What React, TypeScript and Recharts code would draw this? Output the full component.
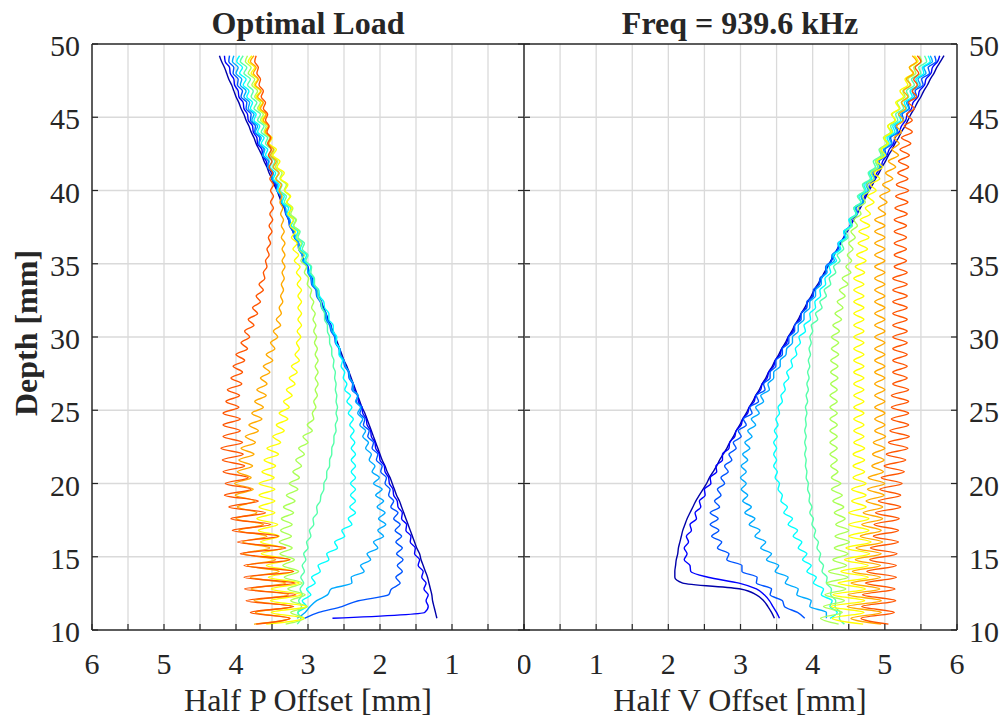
import React from 'react';
import { ScatterChart, Scatter, XAxis, YAxis, CartesianGrid } from 'recharts';

// depth samples shared by every curve [mm]
const DEPTH = [
  10.4, 10.8, 11.2, 11.6, 12.0, 12.4, 12.8, 13.2, 13.6, 14.0,
  14.4, 14.8, 15.2, 15.6, 16.0, 16.4, 16.8, 17.2, 17.6, 18.0,
  18.4, 18.8, 19.2, 19.6, 20.0, 20.4, 20.8, 21.2, 21.6, 22.0,
  22.4, 22.8, 23.2, 23.6, 24.0, 24.4, 24.8, 25.2, 25.6, 26.0,
  26.4, 26.8, 27.2, 27.6, 28.0, 28.4, 28.8, 29.2, 29.6, 30.0,
  30.4, 30.8, 31.2, 31.6, 32.0, 32.4, 32.8, 33.2, 33.6, 34.0,
  34.4, 34.8, 35.2, 35.6, 36.0, 36.4, 36.8, 37.2, 37.6, 38.0,
  38.4, 38.8, 39.2, 39.6, 40.0, 40.4, 40.8, 41.2, 41.6, 42.0,
  42.4, 42.8, 43.2, 43.6, 44.0, 44.4, 44.8, 45.2, 45.6, 46.0,
  46.4, 46.8, 47.2, 47.6, 48.0, 48.4, 48.8, 49.2,
];

// Half P offset, one array per load (blue -> red)
const P0 = [
  null, 1.21, 1.23, 1.25, 1.27, 1.28, 1.30, 1.32, 1.34, 1.37,
  1.40, 1.43, 1.45, 1.49, 1.52, 1.55, 1.58, 1.61, 1.64, 1.67,
  1.70, 1.73, 1.77, 1.80, 1.83, 1.86, 1.90, 1.93, 1.97, 2.00,
  2.03, 2.06, 2.09, 2.12, 2.15, 2.18, 2.21, 2.25, 2.28, 2.31,
  2.34, 2.37, 2.40, 2.43, 2.46, 2.50, 2.53, 2.56, 2.59, 2.62,
  2.65, 2.69, 2.72, 2.75, 2.78, 2.82, 2.85, 2.88, 2.92, 2.95,
  2.98, 3.01, 3.05, 3.08, 3.11, 3.14, 3.17, 3.21, 3.24, 3.27,
  3.30, 3.33, 3.37, 3.40, 3.43, 3.47, 3.50, 3.54, 3.57, 3.61,
  3.64, 3.68, 3.72, 3.75, 3.79, 3.82, 3.86, 3.89, 3.93, 3.96,
  4.00, 4.03, 4.06, 4.10, 4.13, 4.16, 4.20, 4.23,
];
const P1 = [
  null, 2.66, 1.38, 1.33, 1.36, 1.33, 1.39, 1.36, 1.42, 1.40,
  1.47, 1.45, 1.52, 1.51, 1.58, 1.57, 1.64, 1.63, 1.70, 1.69,
  1.75, 1.76, 1.81, 1.82, 1.87, 1.88, 1.93, 1.94, 2.00, 2.01,
  2.06, 2.07, 2.12, 2.13, 2.18, 2.19, 2.24, 2.25, 2.30, 2.31,
  2.36, 2.37, 2.42, 2.43, 2.48, 2.50, 2.55, 2.56, 2.61, 2.62,
  2.67, 2.68, 2.73, 2.75, 2.80, 2.81, 2.86, 2.88, 2.93, 2.94,
  2.99, 3.00, 3.06, 3.07, 3.12, 3.13, 3.18, 3.20, 3.25, 3.26,
  3.31, 3.32, 3.37, 3.38, 3.43, 3.45, 3.50, 3.51, 3.56, 3.58,
  3.63, 3.64, 3.70, 3.71, 3.76, 3.77, 3.83, 3.84, 3.89, 3.90,
  3.96, 3.97, 4.02, 4.03, 4.08, 4.09, 4.15, 4.16,
];
const P2 = [
  null, 3.05, 2.85, 2.53, 2.30, 1.88, 1.84, 1.72, 1.78, 1.69,
  1.76, 1.68, 1.77, 1.69, 1.78, 1.70, 1.79, 1.72, 1.81, 1.75,
  1.85, 1.81, 1.88, 1.86, 1.93, 1.91, 1.99, 1.97, 2.05, 2.03,
  2.11, 2.09, 2.17, 2.15, 2.23, 2.21, 2.28, 2.25, 2.33, 2.31,
  2.39, 2.38, 2.43, 2.44, 2.49, 2.51, 2.56, 2.57, 2.62, 2.63,
  2.68, 2.70, 2.75, 2.76, 2.81, 2.83, 2.88, 2.89, 2.95, 2.96,
  3.00, 3.01, 3.07, 3.08, 3.13, 3.14, 3.19, 3.21, 3.26, 3.27,
  3.31, 3.32, 3.37, 3.38, 3.43, 3.44, 3.50, 3.49, 3.56, 3.55,
  3.62, 3.61, 3.68, 3.67, 3.74, 3.73, 3.80, 3.79, 3.86, 3.85,
  3.93, 3.91, 3.98, 3.97, 4.04, 4.03, 4.10, 4.09,
];
const P3 = [
  null, 3.15, 3.04, 2.97, 2.88, 2.73, 2.68, 2.39, 2.40, 2.22,
  2.27, 2.13, 2.18, 2.03, 2.09, 1.95, 2.03, 1.92, 2.02, 1.93,
  2.04, 1.95, 2.06, 1.97, 2.09, 2.01, 2.11, 2.07, 2.15, 2.12,
  2.20, 2.16, 2.24, 2.20, 2.28, 2.24, 2.31, 2.27, 2.34, 2.30,
  2.38, 2.37, 2.42, 2.43, 2.48, 2.50, 2.55, 2.56, 2.61, 2.62,
  2.67, 2.69, 2.74, 2.75, 2.80, 2.82, 2.87, 2.88, 2.94, 2.95,
  3.00, 3.01, 3.07, 3.08, 3.13, 3.13, 3.18, 3.19, 3.24, 3.25,
  3.30, 3.31, 3.36, 3.37, 3.42, 3.42, 3.50, 3.48, 3.56, 3.54,
  3.63, 3.60, 3.68, 3.65, 3.73, 3.70, 3.78, 3.75, 3.83, 3.81,
  3.89, 3.86, 3.94, 3.92, 4.00, 3.97, 4.05, 4.03,
];
const P4 = [
  null, 3.09, 3.14, 3.02, 3.08, 2.96, 3.02, 2.90, 2.95, 2.83,
  2.86, 2.71, 2.74, 2.59, 2.63, 2.49, 2.53, 2.39, 2.44, 2.34,
  2.42, 2.34, 2.41, 2.34, 2.41, 2.34, 2.40, 2.34, 2.40, 2.34,
  2.40, 2.35, 2.41, 2.36, 2.42, 2.37, 2.44, 2.39, 2.46, 2.41,
  2.49, 2.46, 2.51, 2.49, 2.54, 2.52, 2.57, 2.56, 2.61, 2.60,
  2.65, 2.65, 2.71, 2.71, 2.77, 2.78, 2.84, 2.85, 2.92, 2.92,
  2.98, 2.96, 3.05, 3.02, 3.11, 3.08, 3.17, 3.14, 3.23, 3.20,
  3.29, 3.27, 3.36, 3.33, 3.43, 3.40, 3.48, 3.45, 3.53, 3.50,
  3.59, 3.56, 3.65, 3.61, 3.70, 3.67, 3.75, 3.72, 3.80, 3.77,
  3.85, 3.82, 3.90, 3.86, 3.95, 3.91, 3.99, 3.95,
];
const P5 = [
  3.15, 3.10, 3.14, 3.09, 3.13, 3.08, 3.11, 3.06, 3.10, 3.05,
  3.08, 3.03, 3.06, 3.00, 3.02, 2.96, 2.98, 2.92, 2.93, 2.87,
  2.88, 2.83, 2.82, 2.78, 2.78, 2.74, 2.74, 2.70, 2.70, 2.67,
  2.67, 2.64, 2.64, 2.61, 2.62, 2.59, 2.61, 2.59, 2.61, 2.60,
  2.62, 2.61, 2.63, 2.62, 2.65, 2.64, 2.67, 2.67, 2.70, 2.70,
  2.73, 2.73, 2.77, 2.77, 2.81, 2.82, 2.86, 2.86, 2.91, 2.91,
  2.96, 2.95, 3.03, 3.00, 3.08, 3.05, 3.14, 3.11, 3.20, 3.17,
  3.26, 3.24, 3.33, 3.30, 3.39, 3.36, 3.44, 3.41, 3.49, 3.46,
  3.54, 3.51, 3.59, 3.56, 3.65, 3.61, 3.70, 3.66, 3.75, 3.71,
  3.79, 3.76, 3.84, 3.80, 3.89, 3.85, 3.94, 3.90,
];
const P6 = [
  3.31, 3.05, 3.24, 3.01, 3.24, 3.04, 3.28, 3.08, 3.33, 3.13,
  3.35, 3.19, 3.39, 3.22, 3.40, 3.23, 3.38, 3.22, 3.37, 3.20,
  3.34, 3.18, 3.30, 3.14, 3.26, 3.12, 3.21, 3.09, 3.17, 3.05,
  3.13, 3.00, 3.07, 2.94, 3.01, 2.92, 2.94, 2.89, 2.92, 2.87,
  2.90, 2.86, 2.90, 2.86, 2.90, 2.86, 2.90, 2.87, 2.91, 2.88,
  2.92, 2.89, 2.93, 2.90, 2.95, 2.92, 2.97, 2.95, 3.01, 2.99,
  3.05, 3.02, 3.10, 3.05, 3.13, 3.09, 3.16, 3.12, 3.20, 3.16,
  3.24, 3.21, 3.29, 3.25, 3.33, 3.30, 3.39, 3.36, 3.45, 3.42,
  3.50, 3.47, 3.56, 3.53, 3.61, 3.58, 3.66, 3.62, 3.70, 3.66,
  3.74, 3.70, 3.78, 3.74, 3.83, 3.79, 3.87, 3.84,
];
const P7 = [
  3.58, 3.06, 3.51, 3.02, 3.52, 3.09, 3.51, 3.12, 3.55, 3.21,
  3.58, 3.27, 3.65, 3.36, 3.66, 3.40, 3.69, 3.42, 3.71, 3.46,
  3.68, 3.46, 3.68, 3.46, 3.68, 3.47, 3.64, 3.45, 3.61, 3.41,
  3.57, 3.38, 3.49, 3.33, 3.44, 3.28, 3.40, 3.26, 3.34, 3.22,
  3.30, 3.18, 3.26, 3.15, 3.23, 3.12, 3.18, 3.12, 3.16, 3.10,
  3.15, 3.09, 3.14, 3.09, 3.14, 3.09, 3.14, 3.09, 3.15, 3.10,
  3.16, 3.11, 3.19, 3.13, 3.21, 3.15, 3.23, 3.17, 3.25, 3.20,
  3.28, 3.22, 3.30, 3.24, 3.32, 3.28, 3.38, 3.33, 3.43, 3.39,
  3.49, 3.44, 3.54, 3.50, 3.60, 3.55, 3.64, 3.59, 3.68, 3.63,
  3.72, 3.66, 3.75, 3.70, 3.79, 3.74, 3.83, 3.78,
];
const P8 = [
  3.75, 3.25, 3.73, 3.23, 3.75, 3.27, 3.79, 3.31, 3.80, 3.40,
  3.84, 3.45, 3.90, 3.53, 3.91, 3.57, 3.96, 3.62, 4.00, 3.71,
  3.98, 3.74, 4.01, 3.76, 4.02, 3.79, 3.98, 3.77, 3.96, 3.75,
  3.93, 3.73, 3.87, 3.69, 3.82, 3.64, 3.78, 3.62, 3.74, 3.58,
  3.71, 3.57, 3.66, 3.53, 3.62, 3.49, 3.58, 3.46, 3.52, 3.42,
  3.48, 3.38, 3.44, 3.37, 3.40, 3.35, 3.38, 3.34, 3.37, 3.33,
  3.36, 3.32, 3.36, 3.32, 3.36, 3.32, 3.37, 3.33, 3.37, 3.34,
  3.38, 3.35, 3.39, 3.36, 3.40, 3.37, 3.45, 3.40, 3.48, 3.44,
  3.52, 3.48, 3.55, 3.51, 3.59, 3.55, 3.62, 3.58, 3.66, 3.62,
  3.70, 3.65, 3.73, 3.69, 3.76, 3.72, 3.80, 3.75,
];
const P9 = [
  3.72, 3.25, 3.80, 3.20, 3.86, 3.17, 3.88, 3.18, 3.89, 3.20,
  3.89, 3.25, 3.94, 3.31, 3.98, 3.41, 4.05, 3.52, 4.07, 3.59,
  4.10, 3.69, 4.16, 3.79, 4.15, 3.83, 4.18, 3.88, 4.19, 3.90,
  4.21, 3.91, 4.18, 3.94, 4.18, 3.94, 4.18, 3.96, 4.14, 3.95,
  4.12, 3.92, 4.07, 3.91, 4.04, 3.88, 4.00, 3.84, 3.93, 3.81,
  3.88, 3.75, 3.83, 3.70, 3.77, 3.66, 3.72, 3.62, 3.68, 3.60,
  3.62, 3.57, 3.59, 3.54, 3.57, 3.52, 3.55, 3.50, 3.54, 3.49,
  3.53, 3.48, 3.52, 3.48, 3.52, 3.48, 3.53, 3.49, 3.54, 3.50,
  3.55, 3.51, 3.56, 3.52, 3.57, 3.54, 3.59, 3.56, 3.62, 3.59,
  3.65, 3.62, 3.68, 3.66, 3.71, 3.69, 3.74, 3.72,
];

// Half V offset, same loads
const V0 = [
  null, 3.47, 3.43, 3.38, 3.32, 3.22, 3.00, 2.20, 2.09, 2.09,
  2.10, 2.11, 2.13, 2.14, 2.16, 2.18, 2.20, 2.23, 2.26, 2.30,
  2.34, 2.38, 2.43, 2.48, 2.53, 2.57, 2.62, 2.67, 2.71, 2.76,
  2.81, 2.85, 2.90, 2.94, 2.99, 3.03, 3.08, 3.12, 3.17, 3.21,
  3.26, 3.30, 3.35, 3.39, 3.44, 3.48, 3.53, 3.57, 3.62, 3.66,
  3.71, 3.75, 3.80, 3.84, 3.89, 3.93, 3.98, 4.02, 4.07, 4.12,
  4.16, 4.21, 4.25, 4.30, 4.34, 4.39, 4.43, 4.48, 4.52, 4.57,
  4.61, 4.66, 4.70, 4.74, 4.78, 4.83, 4.87, 4.92, 4.96, 5.01,
  5.05, 5.10, 5.14, 5.19, 5.23, 5.28, 5.32, 5.36, 5.41, 5.45,
  5.50, 5.54, 5.59, 5.63, 5.68, 5.72, 5.77, 5.82,
];
const V1 = [
  null, 3.54, 3.50, 3.45, 3.40, 3.33, 3.22, 2.98, 2.55, 2.31,
  2.30, 2.22, 2.26, 2.22, 2.28, 2.25, 2.32, 2.30, 2.39, 2.37,
  2.45, 2.43, 2.51, 2.50, 2.59, 2.58, 2.67, 2.66, 2.75, 2.75,
  2.84, 2.85, 2.92, 2.94, 3.01, 3.03, 3.10, 3.12, 3.19, 3.21,
  3.28, 3.30, 3.37, 3.39, 3.46, 3.48, 3.55, 3.57, 3.64, 3.66,
  3.73, 3.75, 3.82, 3.84, 3.91, 3.93, 4.00, 4.02, 4.09, 4.12,
  4.18, 4.20, 4.26, 4.29, 4.35, 4.38, 4.44, 4.47, 4.53, 4.56,
  4.62, 4.64, 4.70, 4.72, 4.78, 4.80, 4.86, 4.89, 4.95, 4.97,
  5.03, 5.06, 5.12, 5.14, 5.20, 5.23, 5.29, 5.31, 5.37, 5.39,
  5.46, 5.48, 5.55, 5.57, 5.64, 5.66, 5.73, 5.76,
];
const V2 = [
  null, 3.89, 3.79, 3.61, 3.58, 3.41, 3.43, 3.22, 3.23, 3.02,
  3.02, 2.81, 2.84, 2.68, 2.74, 2.60, 2.70, 2.58, 2.69, 2.58,
  2.71, 2.64, 2.73, 2.68, 2.78, 2.73, 2.83, 2.78, 2.88, 2.84,
  2.94, 2.90, 3.01, 2.97, 3.08, 3.04, 3.16, 3.13, 3.25, 3.22,
  3.34, 3.32, 3.41, 3.41, 3.49, 3.49, 3.58, 3.58, 3.67, 3.67,
  3.75, 3.75, 3.84, 3.84, 3.92, 3.92, 4.01, 4.01, 4.09, 4.10,
  4.18, 4.18, 4.26, 4.27, 4.35, 4.36, 4.44, 4.44, 4.52, 4.53,
  4.61, 4.60, 4.70, 4.68, 4.78, 4.76, 4.86, 4.84, 4.94, 4.92,
  5.02, 5.00, 5.10, 5.08, 5.18, 5.16, 5.26, 5.24, 5.34, 5.32,
  5.44, 5.42, 5.53, 5.51, 5.62, 5.60, 5.71, 5.69,
];
const V3 = [
  null, 4.19, 4.19, 3.96, 3.98, 3.78, 3.80, 3.62, 3.66, 3.48,
  3.53, 3.36, 3.43, 3.28, 3.35, 3.20, 3.27, 3.12, 3.20, 3.06,
  3.15, 3.03, 3.10, 3.01, 3.08, 3.00, 3.08, 3.01, 3.10, 3.03,
  3.13, 3.06, 3.16, 3.10, 3.21, 3.15, 3.26, 3.21, 3.32, 3.28,
  3.40, 3.38, 3.46, 3.46, 3.55, 3.55, 3.63, 3.64, 3.72, 3.72,
  3.80, 3.80, 3.88, 3.88, 3.96, 3.96, 4.04, 4.04, 4.12, 4.12,
  4.20, 4.19, 4.30, 4.27, 4.38, 4.35, 4.46, 4.43, 4.54, 4.51,
  4.62, 4.59, 4.70, 4.67, 4.77, 4.74, 4.85, 4.82, 4.93, 4.90,
  5.01, 4.98, 5.09, 5.06, 5.17, 5.14, 5.25, 5.22, 5.33, 5.30,
  5.41, 5.38, 5.49, 5.46, 5.57, 5.54, 5.66, 5.63,
];
const V4 = [
  null, 4.24, 4.34, 4.24, 4.27, 4.12, 4.15, 4.01, 4.05, 3.92,
  3.98, 3.86, 3.92, 3.80, 3.85, 3.73, 3.79, 3.66, 3.72, 3.60,
  3.65, 3.56, 3.58, 3.52, 3.54, 3.48, 3.51, 3.46, 3.50, 3.46,
  3.50, 3.46, 3.51, 3.47, 3.52, 3.49, 3.54, 3.52, 3.58, 3.56,
  3.62, 3.60, 3.67, 3.64, 3.72, 3.70, 3.78, 3.76, 3.83, 3.81,
  3.90, 3.88, 3.97, 3.96, 4.04, 4.03, 4.11, 4.10, 4.18, 4.17,
  4.25, 4.23, 4.33, 4.29, 4.39, 4.36, 4.46, 4.43, 4.53, 4.50,
  4.60, 4.57, 4.67, 4.64, 4.74, 4.71, 4.82, 4.79, 4.90, 4.87,
  4.98, 4.95, 5.06, 5.03, 5.14, 5.11, 5.22, 5.19, 5.30, 5.27,
  5.38, 5.35, 5.46, 5.43, 5.54, 5.52, 5.63, 5.60,
];
const V5 = [
  4.44, 4.37, 4.38, 4.31, 4.32, 4.25, 4.26, 4.19, 4.20, 4.13,
  4.15, 4.09, 4.11, 4.06, 4.08, 4.02, 4.04, 3.99, 4.01, 3.96,
  3.99, 3.95, 3.96, 3.93, 3.94, 3.91, 3.92, 3.90, 3.91, 3.89,
  3.91, 3.89, 3.91, 3.89, 3.91, 3.90, 3.92, 3.90, 3.93, 3.91,
  3.94, 3.92, 3.95, 3.93, 3.96, 3.94, 3.97, 3.95, 3.98, 3.96,
  4.00, 3.98, 4.07, 4.04, 4.13, 4.10, 4.19, 4.16, 4.25, 4.23,
  4.32, 4.29, 4.38, 4.34, 4.43, 4.40, 4.49, 4.46, 4.55, 4.52,
  4.61, 4.57, 4.67, 4.62, 4.72, 4.69, 4.80, 4.77, 4.87, 4.84,
  4.95, 4.92, 5.03, 5.00, 5.11, 5.08, 5.18, 5.15, 5.26, 5.23,
  5.33, 5.30, 5.41, 5.37, 5.50, 5.47, 5.58, 5.55,
];
const V6 = [
  4.36, 4.11, 4.41, 4.15, 4.44, 4.17, 4.46, 4.19, 4.49, 4.22,
  4.47, 4.28, 4.49, 4.30, 4.51, 4.31, 4.50, 4.32, 4.45, 4.30,
  4.43, 4.28, 4.41, 4.26, 4.39, 4.26, 4.35, 4.25, 4.34, 4.24,
  4.34, 4.24, 4.34, 4.24, 4.34, 4.24, 4.34, 4.24, 4.34, 4.24,
  4.34, 4.25, 4.35, 4.25, 4.35, 4.25, 4.36, 4.26, 4.36, 4.26,
  4.37, 4.28, 4.40, 4.31, 4.42, 4.34, 4.45, 4.37, 4.49, 4.41,
  4.53, 4.46, 4.54, 4.48, 4.56, 4.50, 4.59, 4.53, 4.62, 4.57,
  4.67, 4.63, 4.73, 4.69, 4.79, 4.75, 4.85, 4.81, 4.91, 4.87,
  4.97, 4.93, 5.03, 4.98, 5.08, 5.04, 5.14, 5.10, 5.21, 5.17,
  5.28, 5.25, 5.35, 5.32, 5.43, 5.40, 5.51, 5.48,
];
const V7 = [
  4.70, 4.27, 4.71, 4.25, 4.72, 4.28, 4.73, 4.35, 4.77, 4.39,
  4.77, 4.44, 4.79, 4.46, 4.81, 4.50, 4.78, 4.50, 4.78, 4.50,
  4.74, 4.54, 4.74, 4.54, 4.74, 4.56, 4.72, 4.56, 4.72, 4.56,
  4.72, 4.57, 4.71, 4.57, 4.71, 4.57, 4.71, 4.57, 4.71, 4.57,
  4.71, 4.57, 4.71, 4.57, 4.71, 4.57, 4.71, 4.57, 4.71, 4.57,
  4.71, 4.57, 4.71, 4.57, 4.71, 4.57, 4.71, 4.57, 4.71, 4.57,
  4.72, 4.59, 4.74, 4.61, 4.76, 4.63, 4.78, 4.64, 4.79, 4.66,
  4.80, 4.73, 4.85, 4.76, 4.88, 4.80, 4.93, 4.85, 4.97, 4.89,
  5.01, 4.95, 5.05, 4.99, 5.10, 5.04, 5.15, 5.09, 5.20, 5.15,
  5.26, 5.21, 5.32, 5.28, 5.39, 5.34, 5.46, 5.41,
];
const V8 = [
  4.95, 4.53, 4.95, 4.48, 4.95, 4.49, 4.93, 4.53, 4.94, 4.55,
  4.94, 4.59, 4.95, 4.60, 4.97, 4.66, 4.95, 4.68, 4.97, 4.70,
  4.97, 4.74, 4.99, 4.76, 5.00, 4.77, 4.98, 4.82, 4.99, 4.83,
  5.00, 4.84, 5.01, 4.86, 5.00, 4.86, 5.00, 4.86, 5.00, 4.86,
  5.00, 4.86, 5.00, 4.86, 5.00, 4.86, 5.00, 4.86, 5.00, 4.86,
  5.00, 4.86, 5.00, 4.86, 5.00, 4.86, 5.00, 4.86, 5.00, 4.86,
  5.00, 4.86, 5.00, 4.86, 5.00, 4.86, 5.00, 4.86, 5.00, 4.86,
  5.01, 4.91, 5.03, 4.93, 5.07, 4.97, 5.11, 5.01, 5.15, 5.05,
  5.19, 5.10, 5.20, 5.13, 5.23, 5.16, 5.26, 5.19, 5.29, 5.23,
  5.32, 5.26, 5.36, 5.30, 5.40, 5.34, 5.44, 5.38,
];
const V9 = [
  5.05, 4.67, 5.13, 4.68, 5.15, 4.69, 5.14, 4.73, 5.16, 4.75,
  5.16, 4.79, 5.17, 4.80, 5.19, 4.84, 5.19, 4.85, 5.20, 4.87,
  5.22, 4.91, 5.22, 4.93, 5.24, 4.95, 5.27, 4.99, 5.29, 5.02,
  5.32, 5.05, 5.34, 5.07, 5.33, 5.09, 5.33, 5.09, 5.33, 5.09,
  5.33, 5.11, 5.31, 5.11, 5.31, 5.11, 5.31, 5.11, 5.31, 5.11,
  5.31, 5.11, 5.31, 5.11, 5.31, 5.11, 5.31, 5.11, 5.31, 5.11,
  5.31, 5.13, 5.30, 5.13, 5.30, 5.13, 5.30, 5.13, 5.30, 5.13,
  5.31, 5.14, 5.32, 5.15, 5.33, 5.16, 5.32, 5.18, 5.33, 5.19,
  5.34, 5.21, 5.36, 5.23, 5.38, 5.27, 5.38, 5.30, 5.41, 5.33,
  5.44, 5.38, 5.45, 5.40, 5.47, 5.42, 5.50, 5.45,
];

const HALF_P = [P0, P1, P2, P3, P4, P5, P6, P7, P8, P9];
const HALF_V = [V0, V1, V2, V3, V4, V5, V6, V7, V8, V9];

// jet(10)
const COLORS = ['#0000aa', '#0000ff', '#0055ff', '#00aaff', '#00ffff', '#55ffaa', '#aaff55', '#ffff00', '#ffaa00', '#ff5500'];

const X_TICKS = [0, 0.5, 1, 1.5, 2, 2.5, 3, 3.5, 4, 4.5, 5, 5.5, 6];
const Y_TICKS = [10, 15, 20, 25, 30, 35, 40, 45, 50];
const X_GRID = [0.5, 1, 1.5, 2, 2.5, 3, 3.5, 4, 4.5, 5, 5.5];
const Y_GRID = [15, 20, 25, 30, 35, 40, 45];

const INK = '#262626';
const FONT = "'Liberation Serif', 'Times New Roman', serif";
const TICK_LEN = 6;

const toPoints = (vals: (number | null)[]) =>
  DEPTH.map((d, i) => ({ x: vals[i], y: d })).filter((p) => p.x !== null);

const BottomTick = (props: any) => {
  const { x, y, payload, skipZero } = props;
  const v = payload.value;
  const show = Number.isInteger(v) && !(skipZero && v === 0);
  return (
    <g>
      <line x1={x} y1={y} x2={x} y2={y - TICK_LEN} stroke={INK} strokeWidth={1.2} />
      {show && (
        <text x={x} y={y + 44} textAnchor="middle" fontFamily={FONT} fontSize={30} fill={INK}>
          {v}
        </text>
      )}
    </g>
  );
};

const TopTick = (props: any) => {
  const { x, y } = props;
  return <line x1={x} y1={y} x2={x} y2={y + TICK_LEN} stroke={INK} strokeWidth={1.2} />;
};

const LeftTick = (props: any) => {
  const { x, y, payload, label } = props;
  return (
    <g>
      <line x1={x} y1={y} x2={x + TICK_LEN} y2={y} stroke={INK} strokeWidth={1.2} />
      {label && (
        <text x={x - 12} y={y + 12} textAnchor="end" fontFamily={FONT} fontSize={30} fill={INK}>
          {payload.value}
        </text>
      )}
    </g>
  );
};

const RightTick = (props: any) => {
  const { x, y, payload, label } = props;
  return (
    <g>
      <line x1={x} y1={y} x2={x - TICK_LEN} y2={y} stroke={INK} strokeWidth={1.2} />
      {label && (
        <text x={x + 12} y={y + 12} textAnchor="start" fontFamily={FONT} fontSize={30} fill={INK}>
          {payload.value}
        </text>
      )}
    </g>
  );
};

const frame = { stroke: INK, strokeWidth: 1.5 };

const Panel = ({ side, series }: { side: 'left' | 'right'; series: (number | null)[][] }) => {
  const left = side === 'left';
  return (
    <ScatterChart
      width={left ? 530 : 485}
      height={719}
      margin={{ top: 34, right: 0, bottom: 29, left: 0 }}
    >
      <CartesianGrid
        xAxisId="b"
        yAxisId="l"
        stroke="#dadada"
        strokeWidth={1.3}
        verticalValues={X_GRID}
        horizontalValues={Y_GRID}
      />
      {series.map((vals, k) => (
        <Scatter
          key={k}
          xAxisId="b"
          yAxisId="l"
          data={toPoints(vals)}
          fill={COLORS[k]}
          line={{ stroke: COLORS[k], strokeWidth: 1.4 }}
          lineType="joint"
          lineJointType="monotoneY"
          shape={() => <g />}
          isAnimationActive={false}
        />
      ))}
      <XAxis
        xAxisId="b"
        type="number"
        dataKey="x"
        domain={[0, 6]}
        ticks={X_TICKS}
        interval={0}
        reversed={left}
        allowDataOverflow
        height={60}
        tickSize={0}
        tickMargin={0}
        axisLine={frame}
        tickLine={false}
        tick={<BottomTick skipZero={left} />}
      />
      <XAxis
        xAxisId="t"
        orientation="top"
        type="number"
        domain={[0, 6]}
        ticks={X_TICKS}
        interval={0}
        reversed={left}
        allowDataOverflow
        height={10}
        tickSize={0}
        tickMargin={0}
        axisLine={frame}
        tickLine={false}
        tick={<TopTick />}
      />
      <YAxis
        yAxisId="l"
        type="number"
        dataKey="y"
        domain={[10, 50]}
        ticks={Y_TICKS}
        interval={0}
        allowDataOverflow
        width={left ? 92 : 6}
        tickSize={0}
        tickMargin={0}
        axisLine={left ? frame : false}
        tickLine={false}
        tick={<LeftTick label={left} />}
      />
      <YAxis
        yAxisId="r"
        orientation="right"
        type="number"
        domain={[10, 50]}
        ticks={Y_TICKS}
        interval={0}
        allowDataOverflow
        width={left ? 6 : 46}
        tickSize={0}
        tickMargin={0}
        axisLine={frame}
        tickLine={false}
        tick={<RightTick label={!left} />}
      />
    </ScatterChart>
  );
};

export default function App() {
  return (
    <div style={{ position: 'absolute', left: 0, top: 0, width: 1003, height: 719, background: '#fff', overflow: 'hidden' }}>
      <svg width={1003} height={719} style={{ position: 'absolute', left: 0, top: 0 }}>
        <g fontFamily={FONT} fill={INK} textAnchor="middle">
          <text x={308} y={34} fontSize={32} fontWeight="bold">Optimal Load</text>
          <text x={740} y={34} fontSize={32} fontWeight="bold">Freq = 939.6 kHz</text>
          <text x={308} y={711} fontSize={32}>Half P Offset [mm]</text>
          <text x={740} y={711} fontSize={32}>Half V Offset [mm]</text>
          <text transform="translate(37,333) rotate(-90)" fontSize={32} fontWeight="bold">Depth [mm]</text>
        </g>
      </svg>
      <div style={{ position: 'absolute', left: 0, top: 0 }}>
        <Panel side="left" series={HALF_P} />
      </div>
      <div style={{ position: 'absolute', left: 518, top: 0 }}>
        <Panel side="right" series={HALF_V} />
      </div>
    </div>
  );
}
